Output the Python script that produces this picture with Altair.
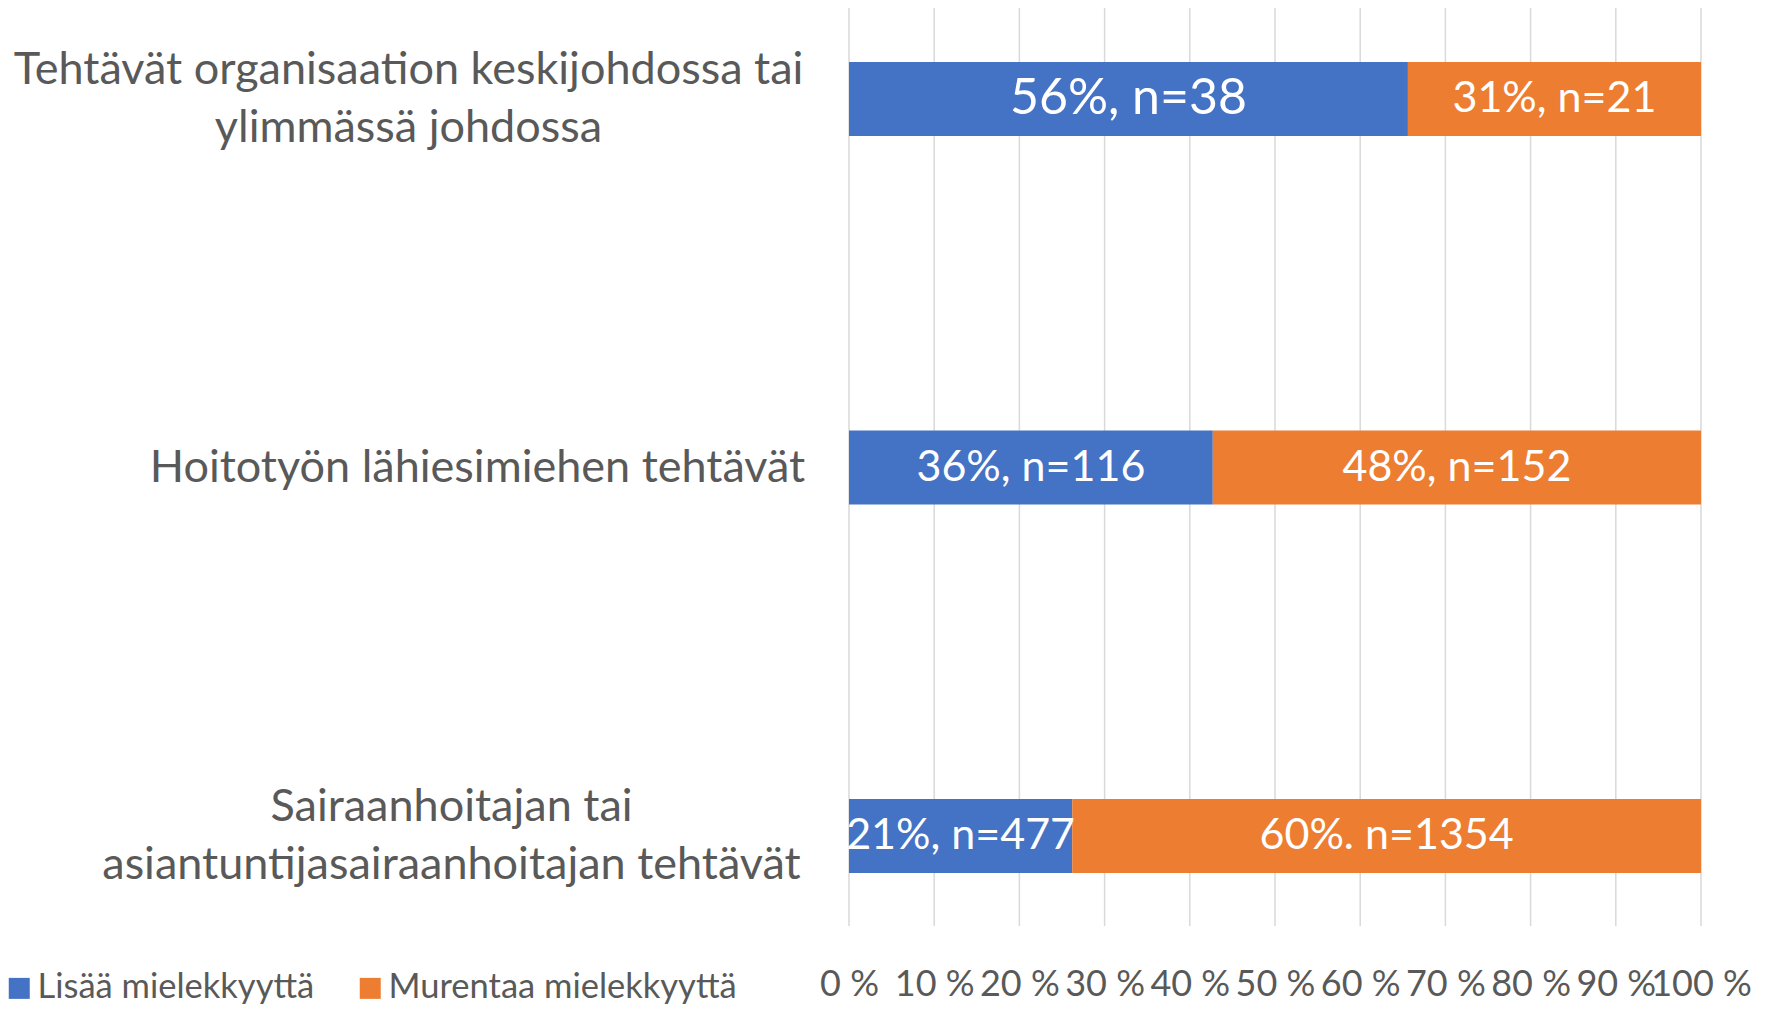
import altair as alt
import pandas as pd

categories = [
    "Tehtävät organisaation keskijohdossa tai\nylimmässä johdossa",
    "Hoitotyön lähiesimiehen tehtävät",
    "Sairaanhoitajan tai\nasiantuntijasairaanhoitajan tehtävät",
]
series = ["Lisää mielekkyyttä", "Murentaa mielekkyyttä"]
# bar shares (% of each bar)
share_lisaa = [65.6, 42.7, 26.2]
share_murentaa = [34.4, 57.3, 73.8]
labels_lisaa = ["56%, n=38", "36%, n=116", "21%, n=477"]
labels_murentaa = ["31%, n=21", "48%, n=152", "60%. n=1354"]
colors = ["#4472C4", "#ED7D31"]
x_ticks = [0.0, 0.1, 0.2, 0.3, 0.4, 0.5, 0.6, 0.7, 0.8, 0.9, 1.0]

rows = []
for i, c in enumerate(categories):
    rows.append({"category": c, "series": series[0], "order": 0, "v": share_lisaa[i], "label": labels_lisaa[i]})
    rows.append({"category": c, "series": series[1], "order": 1, "v": share_murentaa[i], "label": labels_murentaa[i]})
df = pd.DataFrame(rows)
ticks_df = pd.DataFrame({"tick": x_ticks})

FONT = "Lato"
GRAY = "#595959"

y_axis = alt.Axis(
    title=None,
    labelExpr="split(datum.label, '\\n')",
    labelAlign="center",
    labelBaseline="middle",
    labelPadding={
        "condition": [
            {"test": "indexof(datum.value, 'Tehtävät') === 0", "value": 441},
            {"test": "indexof(datum.value, 'Sairaan') === 0", "value": 398},
        ],
        "value": 372,
    },
    labelOffset={
        "condition": {"test": "indexof(datum.value, '\\n') >= 0", "value": -29},
        "value": 0,
    },
    labelFontSize=45,
    labelLineHeight=58,
    labelColor=GRAY,
    labelFont=FONT,
    labelLimit=0,
    ticks=False,
    domain=False,
    grid=False,
)
y_scale = alt.Scale(range=[54, 865], paddingInner=0.7992, paddingOuter=0)
y_enc = alt.Y("category:N", sort=categories, scale=y_scale, axis=y_axis)

x_axis = alt.Axis(
    title=None,
    values=x_ticks,
    labelExpr="format(round(datum.value*100), 'd') + ' %'",
    grid=False,
    ticks=False,
    domain=False,
    labelFontSize=36,
    labelColor=GRAY,
    labelFont=FONT,
    labelPadding=41,
    labelFlush=False,
    labelOverlap=False,
)
x_scale = alt.Scale(domain=[0, 1], nice=False)

grid = alt.Chart(ticks_df).mark_rule(color="#D9D9D9", strokeWidth=1.5).encode(
    x=alt.X("tick:Q", scale=x_scale, axis=x_axis)
)

base = alt.Chart(df).transform_stack(
    stack="v",
    groupby=["category"],
    as_=["x0", "x1"],
    offset="normalize",
    sort=[alt.SortField("order", order="ascending")],
).transform_calculate(mid="(datum.x0 + datum.x1) / 2")

bars = base.mark_bar().encode(
    y=y_enc,
    x=alt.X("x0:Q", scale=x_scale, axis=x_axis),
    x2="x1:Q",
    color=alt.Color(
        "series:N",
        scale=alt.Scale(domain=series, range=colors),
        legend=alt.Legend(
            title=None,
            orient="none",
            legendX=-847,
            legendY=963,
            direction="horizontal",
            symbolType="square",
            symbolSize=441,
            symbolStrokeWidth=0,
            labelFontSize=34.5,
            labelFont=FONT,
            labelColor=GRAY,
            columnPadding=38,
            labelOffset=1,
            labelLimit=0,
        ),
    ),
)

text = base.mark_text(color="white", font=FONT, baseline="middle", align="center").encode(
    y=y_enc,
    x=alt.X("mid:Q", scale=x_scale, axis=x_axis),
    text="label:N",
    size=alt.condition(
        "datum.order === 0 && indexof(datum.category, 'Tehtävät') === 0",
        alt.value(50),
        alt.value(43),
    ),
)

chart = alt.layer(grid, bars, text).properties(
    width=852,
    height=918,
    autosize=alt.AutoSizeParams(type="none"),
    padding={"left": 841, "top": 0, "right": 60, "bottom": 80},
).configure_view(stroke=None)

chart.save("out.html", embed_options={"renderer": "svg", "actions": False})
